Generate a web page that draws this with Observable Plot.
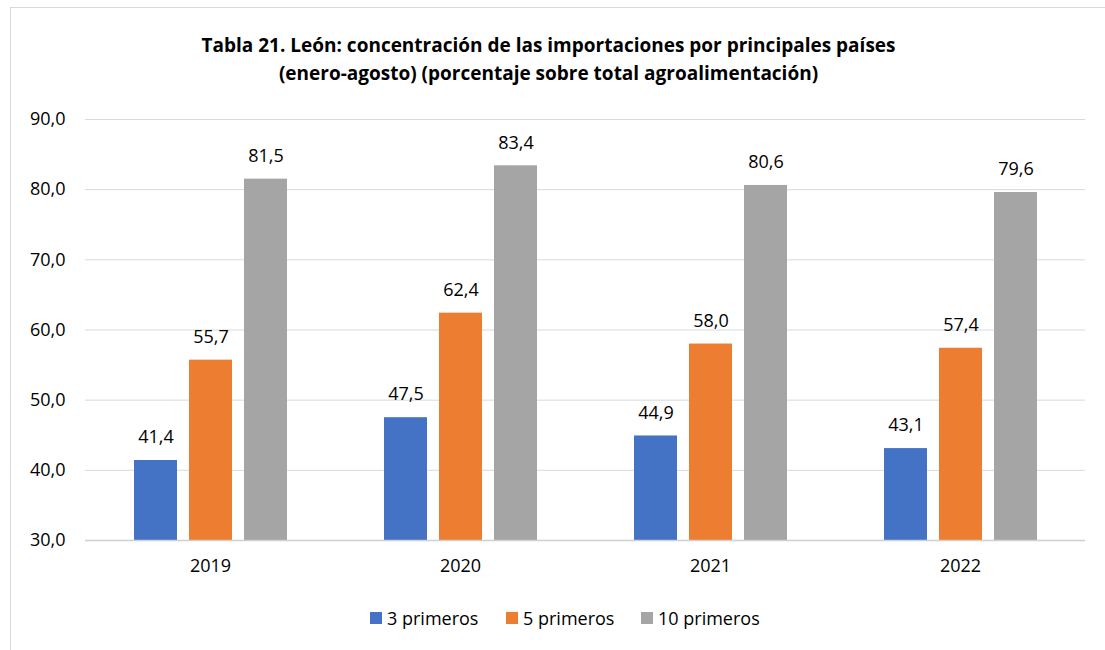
<!DOCTYPE html>
<html>
<head>
<meta charset="utf-8">
<script src="https://cdn.jsdelivr.net/npm/d3@7"></script>
<script src="https://cdn.jsdelivr.net/npm/@observablehq/plot@0.6"></script>
<style>
  html, body { margin: 0; padding: 0; background: #fff; }
  body { width: 1105px; height: 650px; position: relative; overflow: hidden; font-family: "Open Sans", Lato, sans-serif; }
  #frame { position: absolute; left: 10px; top: 7px; width: 1200px; height: 800px; border-left: 1px solid #d9d9d9; border-top: 1px solid #d9d9d9; }
  #title { position: absolute; left: 0; top: 31px; width: 1097px; text-align: center; font-weight: bold; font-size: 19px; line-height: 28px; color: #000; }
  #chart { position: absolute; left: 0; top: 90px; }
  #legend { position: absolute; top: 607px; left: 0; width: 1105px; height: 22px; font-size: 18px; color: #000; }
  .item { position: absolute; top: 0; display: flex; align-items: center; height: 22px; }
  .sw { width: 12px; height: 12px; margin-right: 5px; }
</style>
</head>
<body>
<div id="frame"></div>
<div id="title">Tabla 21. León: concentración de las importaciones por principales países<br>(enero-agosto) (porcentaje sobre total agroalimentación)</div>
<div id="chart"></div>
<div id="legend"></div>
<script>
const years = ["2019", "2020", "2021", "2022"];
const series = ["3 primeros", "5 primeros", "10 primeros"];
const primeros3 = [41.4, 47.5, 44.9, 43.1];
const primeros5 = [55.7, 62.4, 58.0, 57.4];
const primeros10 = [81.5, 83.4, 80.6, 79.6];
const yTicks = [30, 40, 50, 60, 70, 80, 90];
const colors = ["#4472C4", "#ED7D31", "#A5A5A5"];

const valuesBySeries = [primeros3, primeros5, primeros10];
const data = [];
years.forEach((yr, i) => {
  series.forEach((s, j) => {
    data.push({year: yr, series: s, value: valuesBySeries[j][i]});
  });
});
const fmt = d => d.toFixed(1).replace(".", ",");

const chart = Plot.plot({
  width: 1105,
  height: 495,
  marginLeft: 85,
  marginRight: 20,
  marginTop: 29,
  marginBottom: 45,
  style: {fontFamily: "'Open Sans', Lato, sans-serif", fontSize: "18px", color: "#000", background: "transparent"},
  fx: {domain: years, padding: 0, label: null, axis: "bottom", tickSize: 0, tickPadding: 19},
  x: {domain: series, paddingInner: 0.22, paddingOuter: 0.88, axis: null},
  y: {domain: [yTicks[0], yTicks[yTicks.length - 1]], ticks: yTicks, tickFormat: fmt, tickSize: 0, tickPadding: 20, label: null},
  color: {domain: series, range: colors},
  marks: [
    Plot.gridY(yTicks, {stroke: "#d9d9d9", strokeOpacity: 1, strokeWidth: 1}),
    Plot.barY(data, {fx: "year", x: "series", y1: yTicks[0], y2: "value", fill: "series"}),
    Plot.ruleY([yTicks[0]], {stroke: "#d0d0d0", strokeWidth: 1.5}),
    Plot.text(data, {fx: "year", x: "series", y: "value", text: d => fmt(d.value), dy: -23, fontSize: 18, fill: "#000"})
  ]
});
document.getElementById("chart").appendChild(chart);

const legend = document.getElementById("legend");
const legendX = [370, 506, 641];
series.forEach((s, j) => {
  const it = document.createElement("div");
  it.className = "item";
  it.style.left = legendX[j] + "px";
  const sw = document.createElement("span");
  sw.className = "sw";
  sw.style.background = colors[j];
  const tx = document.createElement("span");
  tx.textContent = s;
  it.appendChild(sw);
  it.appendChild(tx);
  legend.appendChild(it);
});
</script>
</body>
</html>
